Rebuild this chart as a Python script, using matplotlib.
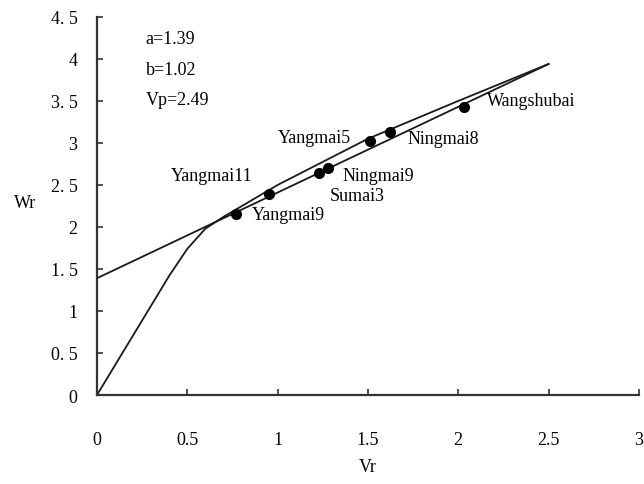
import matplotlib
matplotlib.use("Agg")
import matplotlib.pyplot as plt
import numpy as np

plt.rcParams['font.family'] = ['Liberation Serif', 'DejaVu Serif']

# regression line Wr = a + b*Vr
a = 1.39
b = 1.02
vp = 2.49
line_vr = [0.0, 2.5]

# limiting curve from the origin
curve_vr = [0.0, 0.4, 0.5, 0.6, 0.7, 1.0, 1.5, 2.0, 2.5]
curve_wr = [0.0, 1.42, 1.74, 1.98, 2.12, 2.50, 3.05, 3.50, 3.94]

# varieties
names = ["Yangmai9", "Yangmai11", "Sumai3", "Ningmai9", "Yangmai5", "Ningmai8", "Wangshubai"]
vr = [0.77, 0.95, 1.23, 1.28, 1.51, 1.62, 2.03]
wr = [2.15, 2.39, 2.64, 2.70, 3.02, 3.13, 3.43]
label_pos = [(0.86, 2.15), (0.41, 2.61), (1.29, 2.37), (1.36, 2.61),
             (1.00, 3.07), (1.72, 3.05), (2.16, 3.50)]

xticks = [0, 0.5, 1, 1.5, 2, 2.5, 3]
xticklabels = ["0", "0.5", "1", "1.5", "2", "2.5", "3"]
yticks = [0, 0.5, 1, 1.5, 2, 2.5, 3, 3.5, 4, 4.5]
yticklabels = ["0", "0. 5", "1", "1. 5", "2", "2. 5", "3", "3. 5", "4", "4. 5"]

fig = plt.figure(figsize=(6.44, 4.85), dpi=100)
ax = fig.add_axes([0.1506, 0.1835, 0.8414, 0.7795])

line_wr = [a + b * v for v in line_vr]
ax.plot(line_vr, line_wr, color="#1a1a1a", lw=1.3)
ax.plot(curve_vr, curve_wr, color="#1a1a1a", lw=1.3)
ax.plot(vr, wr, "o", color="black", ms=7)

for name, (lx, ly) in zip(names, label_pos):
    ax.text(lx, ly, name, fontsize=13, va="center", ha="left")

ax.text(0.27, 4.24, "a=1.39", fontsize=13, va="center")
ax.text(0.27, 3.88, "b=1.02", fontsize=13, va="center")
ax.text(0.27, 3.52, "Vp=2.49", fontsize=13, va="center")

ax.set_xlim(0, 3)
ax.set_ylim(0, 4.5)
ax.set_xticks(xticks)
ax.set_xticklabels(xticklabels, fontsize=13)
ax.set_yticks(yticks)
ax.set_yticklabels(yticklabels, fontsize=13)
ax.tick_params(direction="in", length=4, width=1.2, color="#333333")
ax.tick_params(axis="x", pad=26)
ax.tick_params(axis="y", pad=14)

for s in ["top", "right"]:
    ax.spines[s].set_visible(False)
for s in ["left", "bottom"]:
    ax.spines[s].set_linewidth(1.6)
    ax.spines[s].set_color("#333333")

fig.text(25 / 644, 1 - 203 / 485, "Wr", fontsize=13, ha="center", va="center")
fig.text(368 / 644, 1 - 468 / 485, "Vr", fontsize=13, ha="center", va="center")

fig.savefig("out.png", dpi=100)
